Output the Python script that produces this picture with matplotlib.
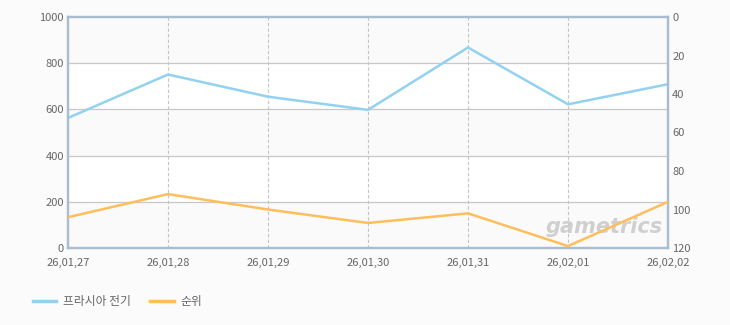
import matplotlib
matplotlib.use("Agg")
import matplotlib.pyplot as plt
from matplotlib.lines import Line2D

plt.rcParams['font.family'] = ['Noto Sans CJK KR', 'DejaVu Sans']

dates = ["26,01,27", "26,01,28", "26,01,29", "26,01,30", "26,01,31", "26,02,01", "26,02,02"]
players = [563, 751, 655, 598, 868, 622, 709]
rank = [104, 92, 100, 107, 102, 119, 96]
left_ticks = [0, 200, 400, 600, 800, 1000]
right_ticks = [0, 20, 40, 60, 80, 100, 120]
series_names = ["프라시아 전기", "순위"]

blue = "#92d2f0"
orange = "#ffbe5c"
tick_color = "#666666"
frame_color = "#a9bdd2"

fig = plt.figure(figsize=(7.3, 3.25), dpi=100)
fig.patch.set_facecolor("#fbfbfb")
ax = fig.add_axes([68/730, 77/325, 600/730, 231/325])
ax.set_facecolor("#ffffff")

x = list(range(len(dates)))
ax.set_xlim(0, len(dates) - 1)
ax.set_ylim(0, 1000)

# alternating bands
for i in range(len(left_ticks) - 1):
    if i % 2 == 0:
        ax.axhspan(left_ticks[i], left_ticks[i + 1], color="#fafafa", zorder=0)

for t in left_ticks[1:-1]:
    ax.axhline(t, color="#c8c8c8", lw=0.9, zorder=1)
for xi in x[1:-1]:
    ax.axvline(xi, color="#c4c4c4", lw=0.8, ls=(0, (3, 2)), zorder=1)

ax.plot(x, players, color=blue, lw=1.8, zorder=3, solid_joinstyle="miter")

ax2 = ax.twinx()
ax2.set_ylim(120, 0)
ax2.plot(x, rank, color=orange, lw=1.8, zorder=3, solid_joinstyle="miter")

ax.set_xticks(x)
ax.set_xticklabels(dates)
ax.set_yticks(left_ticks)
ax2.set_yticks(right_ticks)

for a in (ax, ax2):
    a.tick_params(length=0, labelsize=8, colors=tick_color)
    for s in a.spines.values():
        s.set_color(frame_color)
        s.set_linewidth(1.6)
ax.tick_params(axis="x", pad=7)
ax.tick_params(axis="y", pad=3)
ax2.tick_params(axis="y", pad=3)

# watermark
ax.text(0.893, 0.09, "gametrics", transform=ax.transAxes, fontsize=15,
        fontweight="bold", style="italic", color="#c8c8c8", alpha=0.85,
        ha="center", va="center", family="DejaVu Sans", zorder=2)

handles = [Line2D([0], [0], color=blue, lw=2.5), Line2D([0], [0], color=orange, lw=2.5)]
fig.legend(handles, series_names, loc="lower left", bbox_to_anchor=(22/730, 6/325),
           ncol=2, frameon=False, fontsize=8.5, handlelength=2.0, handletextpad=0.6,
           columnspacing=1.6, labelcolor=tick_color)

fig.savefig("out.png", dpi=100, facecolor=fig.get_facecolor())
